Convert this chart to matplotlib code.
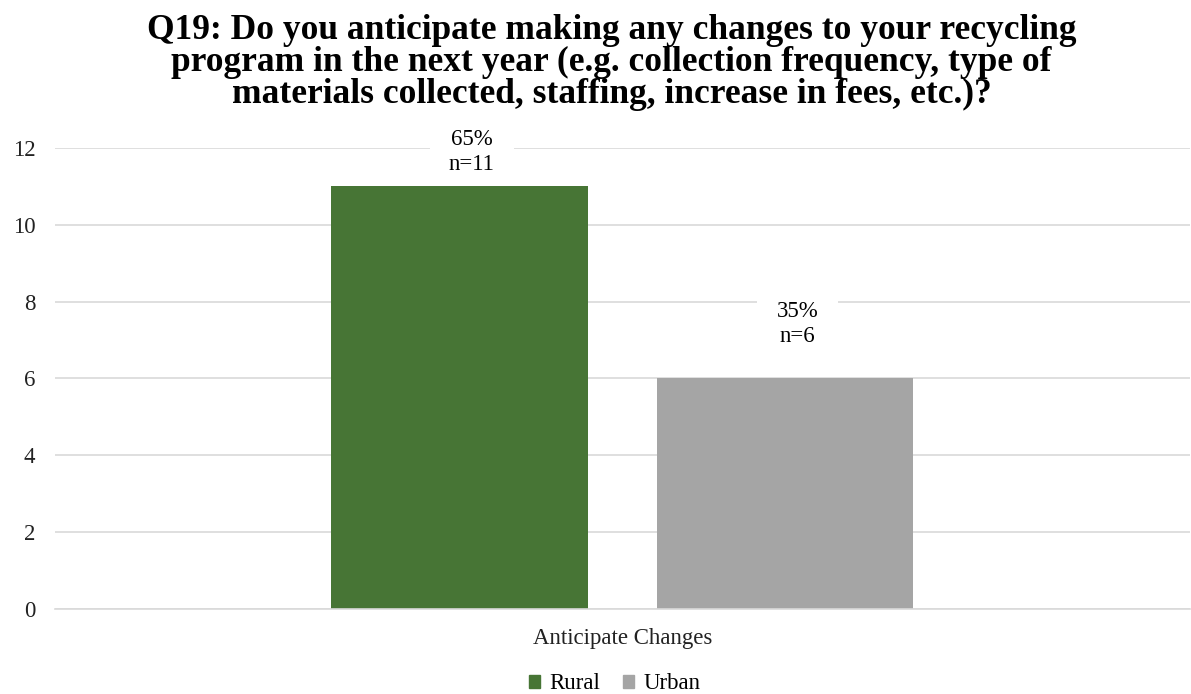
import matplotlib.pyplot as plt
from matplotlib.patches import Patch

plt.rcParams["font.family"] = ["Liberation Serif", "DejaVu Serif"]

CATEGORY = "Anticipate Changes"
SERIES = ["Rural", "Urban"]
COUNTS = [11, 6]
PERCENTS = [65, 35]
COLORS = ["#477535", "#a5a5a5"]
Y_TICKS = [0, 2, 4, 6, 8, 10, 12]

TITLE = ("Q19: Do you anticipate making any changes to your recycling\n"
         "program in the next year (e.g. collection frequency, type of\n"
         "materials collected, staffing, increase in fees, etc.)?")

fig = plt.figure(figsize=(11.91, 6.94), dpi=100)
ax = fig.add_axes([0.046, 0.1225, 0.953, 0.6643])

bar_width = 0.226
offsets = [-0.1435, 0.1435]
label_pad = [8, 22.5]     # points above bar top
label_shift = [9, 9]      # points to the right of bar centre

for off, n, pct, color, dy, dx in zip(offsets, COUNTS, PERCENTS, COLORS,
                                      label_pad, label_shift):
    ax.bar(off, n, width=bar_width, color=color, zorder=2)
    # white box hides the gridline behind the label, kept under the bars
    ax.annotate(f"{pct}%\nn={n}", xy=(off, n), xytext=(dx, dy),
                textcoords="offset points", ha="center", va="bottom",
                fontsize=16.5, linespacing=1.25, zorder=1.5,
                bbox=dict(boxstyle="square,pad=0.85", fc="white", ec="none"))

ax.set_xlim(-0.5, 0.5)
ax.set_ylim(0, 12)
ax.set_yticks(Y_TICKS)
ax.set_xticks([0])
ax.set_xticklabels([CATEGORY])
ax.tick_params(axis="both", length=0, labelsize=16.5, colors="#222222")
ax.tick_params(axis="y", pad=14)
ax.tick_params(axis="x", pad=14)
ax.grid(axis="y", color="#d9d9d9", linewidth=1.2, zorder=0)
ax.set_axisbelow(True)
for side in ["top", "right", "left"]:
    ax.spines[side].set_visible(False)
ax.spines["bottom"].set_color("#d9d9d9")
ax.spines["bottom"].set_linewidth(1.2)

fig.text(0.5135, 0.98, TITLE, ha="center", va="top", fontsize=25.5,
         fontweight="bold", linespacing=0.97)

handles = [Patch(color=c, label=s) for c, s in zip(COLORS, SERIES)]
fig.legend(handles=handles, loc="lower center", bbox_to_anchor=(0.516, -0.03),
           ncol=2, frameon=False, fontsize=16.5, handlelength=0.5,
           handleheight=0.5, handletextpad=0.4, columnspacing=1.0)

fig.savefig("out.png", dpi=100)
